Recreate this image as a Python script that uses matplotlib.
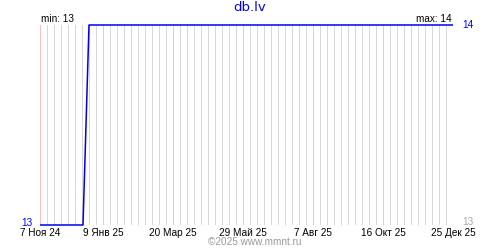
import matplotlib
matplotlib.use("Agg")
import matplotlib.pyplot as plt
import matplotlib.dates as mdates
import datetime as dt

# Data
dates = [dt.date(2024, 11, 7), dt.date(2024, 12, 20), dt.date(2024, 12, 26), dt.date(2025, 12, 25)]
values = [13, 13, 14, 14]
tick_dates = [dt.date(2024, 11, 7), dt.date(2025, 1, 9), dt.date(2025, 3, 20), dt.date(2025, 5, 29),
              dt.date(2025, 8, 7), dt.date(2025, 10, 16), dt.date(2025, 12, 25)]
tick_labels = ["7 Ноя 24", "9 Янв 25", "20 Мар 25", "29 Май 25", "7 Авг 25", "16 Окт 25", "25 Дек 25"]
title = "db.lv"
vmin, vmax = 13, 14

FONT = ["Liberation Sans", "DejaVu Sans"]
plt.rcParams["font.family"] = FONT

fig = plt.figure(figsize=(5, 2.5), dpi=100)
ax = fig.add_axes([40 / 500, 25 / 250, 413 / 500, 200 / 250])

start = mdates.date2num(dt.date(2024, 11, 7))
end = mdates.date2num(dt.date(2025, 12, 25))

px = 72 / 100  # one pixel in points

# weekly grid
d = start
while d <= end + 0.01:
    ax.axvline(d, color="#d8d8d8", lw=px, zorder=0, antialiased=False)
    d += 7
for t in tick_dates:
    ax.axvline(mdates.date2num(t), color="#ffc0c0", lw=px, zorder=1, antialiased=False)
ax.axhline(vmin, color="#d8d8d8", lw=px, zorder=1, antialiased=False)

ax.plot([mdates.date2num(x) for x in dates], values, color="#0000ee", lw=1.1,
        zorder=3, solid_capstyle="butt", clip_on=False)

ax.set_xlim(start, end)
ax.set_ylim(vmin, vmax)
for s in ax.spines.values():
    s.set_visible(False)
ax.set_xticks([mdates.date2num(t) for t in tick_dates])
ax.set_xticklabels(tick_labels, fontsize=7.2)
ax.tick_params(axis="x", length=0, pad=2.5)
ax.set_yticks([])

fig.text(0.5, 1 - 7.5 / 250, title, color="#0000ee", fontsize=9.5, ha="center", va="center",
         family="DejaVu Sans")
fig.text(41 / 500, 1 - 19.5 / 250, f"min: {vmin}", fontsize=7.2, ha="left", va="center")
fig.text(452 / 500, 1 - 19.5 / 250, f"max: {vmax}", fontsize=7.2, ha="right", va="center")
fig.text(33 / 500, 1 - 223 / 250, f"{vmin}", color="#0000ee", fontsize=7.2, ha="right", va="center")
fig.text(462 / 500, 1 - 25 / 250, f"{vmax}", color="#0000ee", fontsize=7.2, ha="left", va="center")
fig.text(462 / 500, 1 - 222 / 250, f"{vmin}", color="#aaaaaa", fontsize=7.2, ha="left", va="center")
fig.text(208 / 500, 1 - 242 / 250, "©2025 www.mmnt.ru", color="#999999", fontsize=7.2,
         ha="left", va="center")

fig.savefig("out.png", dpi=100)
